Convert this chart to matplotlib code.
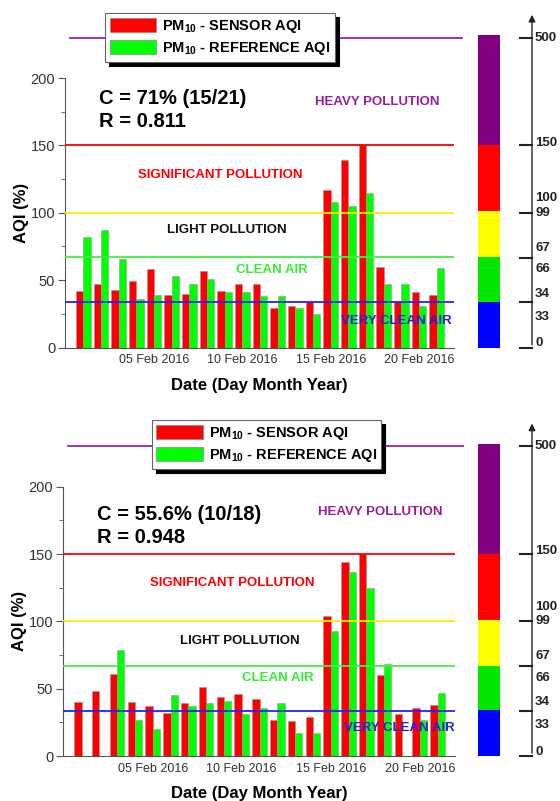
# PM10 AQI comparison: low-cost sensor vs reference station, Feb 2016
# two stacked bar charts with AQI bands and a colour scale on the right

import numpy as np
import matplotlib.pyplot as plt
from matplotlib.patches import Patch

plt.rcParams['font.family'] = ['Liberation Sans', 'DejaVu Sans']
plt.rcParams['mathtext.default'] = 'regular'

# data (AQI %, one pair of bars per day, 01 - 21 Feb 2016)
days = np.arange(1, 22)
sensor_top = [42, 47, 43, 49, 58, 39, 40, 57, 42, 47, 47, 29, 31, 34, 117, 139, 151, 60, 34, 41, 39]
ref_top = [82, 87, 66, 36, 39, 53, 47, 51, 41, 41, 38, 38, 29, 25, 108, 105, 115, 47, 47, 31, 59]
sensor_bot = [40, 48, 61, 40, 37, 32, 39, 51, 44, 46, 42, 27, 26, 29, 104, 144, 150, 60, 31, 36, 38]
ref_bot = [np.nan, np.nan, 79, 27, 20, 45, 37, 39, 41, 31, 36, 39, 17, 17, 93, 137, 125, 68, np.nan, 27, 47]

date_ticks = [5, 10, 15, 20]
date_labels = ['05 Feb 2016', '10 Feb 2016', '15 Feb 2016', '20 Feb 2016']

# AQI bands
band_edges = [0, 34, 67, 101, 150, 232]
band_colors = ['#0000ff', '#00e600', '#ffff00', '#ff0000', '#800080']
scale_ticks = [0, 33.5, 66.5, 100, 150, 230]
scale_labels = ['0', '33', '34', '66', '67', '99', '100', '150', '500']
scale_label_pos = [3, 23, 40, 58, 74, 100, 111, 152, 230]

stats_top = ['C = 71% (15/21)', 'R = 0.811']
stats_bot = ['C = 55.6% (10/18)', 'R = 0.948']

W, H = 560, 801
fig = plt.figure(figsize=(W / 100, H / 100), dpi=100)


def px_axes(left, top, right, bottom):
    return fig.add_axes([left / W, 1 - bottom / H, (right - left) / W, (bottom - top) / H])


def draw_panel(box, sensor, ref, stats, txt, leg_xy):
    left, top, right, bottom = box
    ax = px_axes(left, top, right, bottom)
    w = 0.41
    ax.bar(days - w / 2, sensor, w, color='#ff0000', edgecolor='#999999', linewidth=0.4, zorder=2)
    ax.bar(days + w / 2, ref, w, color='#00ff00', edgecolor='#999999', linewidth=0.4, zorder=2)

    # category limits
    ax.axhline(150, color='#ff0000', lw=1.3, zorder=3)
    ax.axhline(100, color='#ffee00', lw=1.3, zorder=3)
    ax.axhline(67, color='#44ee44', lw=1.3, zorder=3)
    ax.axhline(33.5, color='#2222ff', lw=1.3, zorder=3)
    ax.plot([0.25, 22.43], [230, 230], color='#a020a0', lw=1.3, clip_on=False, zorder=3)

    ax.set_xlim(-0.04, 21.98)
    ax.set_ylim(0, 200)
    ax.set_yticks([0, 50, 100, 150, 200])
    ax.set_yticks([25, 75, 125, 175], minor=True)
    ax.set_xticks(date_ticks)
    ax.set_xticklabels(date_labels)
    ax.tick_params(axis='x', length=0, labelsize=9, labelcolor='#333333', pad=5)
    ax.tick_params(axis='y', which='major', length=5, labelsize=10.5, labelcolor='#333333', pad=2, color='#555555')
    ax.tick_params(axis='y', which='minor', length=3, color='#555555')
    for s in ['top', 'right']:
        ax.spines[s].set_visible(False)
    for s in ['left', 'bottom']:
        ax.spines[s].set_color('#555555')
        ax.spines[s].set_linewidth(0.8)
    ax.set_ylabel('AQI (%)', fontsize=12, fontweight='bold', labelpad=1)
    ax.set_xlabel('Date (Day Month Year)', fontsize=12, fontweight='bold', labelpad=8)

    # statistics and category names
    ax.text(txt['cx'], txt['cy'], stats[0], fontsize=14.5, fontweight='bold', va='center')
    ax.text(txt['cx'], txt['ry'], stats[1], fontsize=14.5, fontweight='bold', va='center')
    kw = dict(fontsize=9.5, fontweight='bold', ha='center', va='center', zorder=4)
    ax.text(*txt['heavy'], 'HEAVY POLLUTION', color='#9b1c9b', **kw)
    ax.text(*txt['sig'], 'SIGNIFICANT POLLUTION', color='#ff0000', **kw)
    ax.text(*txt['light'], 'LIGHT POLLUTION', color='#111111', **kw)
    ax.text(*txt['clean'], 'CLEAN AIR', color='#33ee33', **kw)
    ax.text(*txt['vclean'], 'VERY CLEAN AIR', color='#2222dd', **kw)

    handles = [Patch(facecolor='#ff0000', edgecolor='#888888', lw=0.5),
               Patch(facecolor='#00ff00', edgecolor='#888888', lw=0.5)]
    leg = ax.legend(handles, ['PM$_{10}$ - SENSOR AQI', 'PM$_{10}$ - REFERENCE AQI'],
                    loc='center', bbox_to_anchor=(leg_xy[0] / W, 1 - leg_xy[1] / H),
                    bbox_transform=fig.transFigure, prop={'weight': 'bold', 'size': 10.5},
                    fancybox=False, framealpha=1, edgecolor='#666666',
                    shadow={'ox': 3, 'oy': -3, 'color': 'black', 'alpha': 1},
                    handlelength=3.2, handleheight=1.1, handletextpad=0.4,
                    labelspacing=0.4, borderpad=0.3, borderaxespad=0)
    leg.set_zorder(10)
    leg.get_frame().set_linewidth(0.8)

    # colour scale on the right
    axc = px_axes(470, top, 560, bottom)
    axc.set_xlim(470, 560)
    axc.set_ylim(0, 200)
    axc.axis('off')
    axc.bar(489, np.diff(band_edges), 22, bottom=band_edges[:-1], color=band_colors,
            clip_on=False, linewidth=0)
    axc.annotate('', xy=(532, 249), xytext=(532, 0), annotation_clip=False,
                 arrowprops=dict(arrowstyle='-|>', color='#222222', lw=1.0, mutation_scale=10))
    for t in scale_ticks:
        axc.plot([520, 532], [t, t], color='#222222', lw=1.5, clip_on=False)
    for lab, p in zip(scale_labels, scale_label_pos):
        axc.text(535, p, lab, fontsize=9.5, fontweight='bold', color='#222222', va='center', clip_on=False)
    return ax


txt_top = dict(cx=1.89, cy=185, ry=168, heavy=(17.65, 182), sig=(8.74, 128),
               light=(9.13, 87), clean=(11.68, 57.5), vclean=(18.7, 20))
txt_bot = dict(cx=1.85, cy=179, ry=162, heavy=(17.8, 181), sig=(9.44, 128.8),
               light=(9.92, 85.5), clean=(12.0, 57.6), vclean=(18.84, 20.5))

draw_panel((65, 78, 454, 347.5), sensor_top, ref_top, stats_top, txt_top, (220, 37.5))
draw_panel((63, 486.7, 455, 756), sensor_bot, ref_bot, stats_bot, txt_bot, (266.5, 444.5))

fig.savefig('out.png', dpi=100)
